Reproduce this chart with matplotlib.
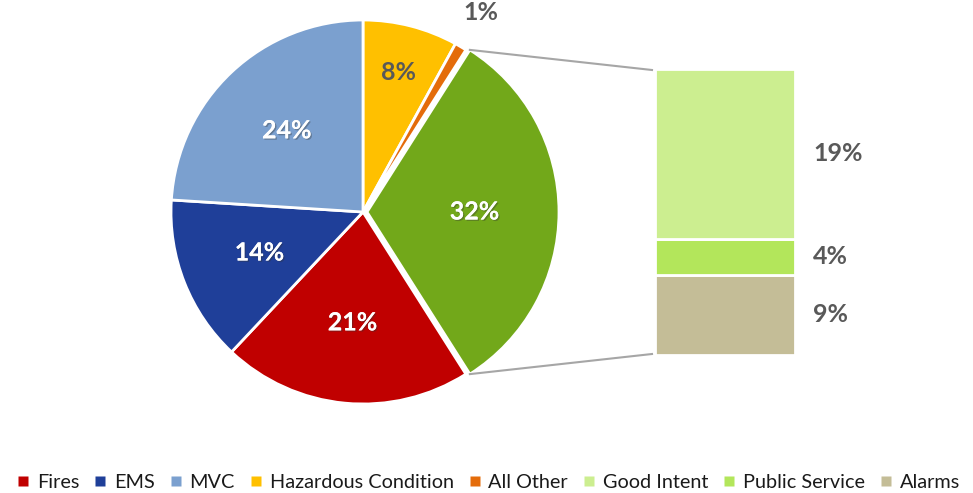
import math
import matplotlib
matplotlib.use("Agg")
import matplotlib.pyplot as plt
from matplotlib.lines import Line2D
import matplotlib.patheffects as pe

plt.rcParams['font.family'] = ['Lato', 'DejaVu Sans']

# Main pie (clockwise from 12 o'clock)
pie_labels = ["Hazardous Condition", "All Other", "Other Calls", "Fires", "EMS", "MVC"]
pie_values = [8, 1, 32, 21, 14, 24]
pie_colors = ["#FFC000", "#E46C0A", "#72A81A", "#C00000", "#1F3F99", "#7BA0CF"]

# Breakdown of the combined slice (bottom to top in the bar)
bar_labels = ["Alarms", "Public Service", "Good Intent"]
bar_values = [9, 4, 19]
bar_colors = ["#C4BD97", "#B3E65B", "#CCEE90"]

legend_order = ["Fires", "EMS", "MVC", "Hazardous Condition", "All Other",
                "Good Intent", "Public Service", "Alarms"]

W, H = 973, 493
fig = plt.figure(figsize=(W / 100, H / 100), dpi=100)
ax = fig.add_axes([0, 0, 1, 1])

cx, cy, R = 363, H - 212, 192
explode_px = [0, 0, 4, 0, 0, 0]
ax.pie(pie_values, colors=pie_colors, startangle=90, counterclock=False,
       center=(cx, cy), radius=R, explode=explode_px, frame=True,
       wedgeprops=dict(edgecolor="white", linewidth=2))
ax.set_xlim(0, W)
ax.set_ylim(0, H)
ax.set_axis_off()

shadow = [pe.withSimplePatchShadow(offset=(1, -1), shadow_rgbFace="#333333", alpha=0.35),
          pe.Normal()]

total = sum(pie_values)
# label radial fractions and colours
label_r = [0.75, 1.21, 0.56, 0.58, 0.58, 0.58]
label_c = ["#595959", "#595959", "white", "white", "white", "white"]
start = 0.0
for v, rf, col, ex in zip(pie_values, label_r, label_c, explode_px):
    mid = (start + v / 2) / total * 2 * math.pi
    x = cx + (rf * R + ex) * math.sin(mid)
    y = cy + (rf * R + ex) * math.cos(mid)
    ax.text(x, y, f"{v}%", ha="center", va="center", fontsize=18,
            fontweight="bold", color=col,
            path_effects=shadow if col == "white" else None)
    start += v

# Stacked bar for the breakdown
bx, bw = 725, 140
b_bottom, b_top = H - 355, H - 69
scale = (b_top - b_bottom) / sum(bar_values)
bottom = b_bottom
for v, col in zip(bar_values, bar_colors):
    ax.bar(bx, v * scale, width=bw, bottom=bottom, color=col,
           edgecolor="white", linewidth=2)
    ax.text(bx + bw / 2 + 18, bottom + v * scale / 2, f"{v}%", ha="left",
            va="center", fontsize=18, fontweight="bold", color="#595959")
    bottom += v * scale

# Connector lines from the combined slice to the bar
s_ang = sum(pie_values[:2]) / total * 2 * math.pi
e_ang = sum(pie_values[:3]) / total * 2 * math.pi
m_ang = (s_ang + e_ang) / 2
ox, oy = explode_px[2] * math.sin(m_ang), explode_px[2] * math.cos(m_ang)
p1 = (cx + ox + R * math.sin(s_ang), cy + oy + R * math.cos(s_ang))
p2 = (cx + ox + R * math.sin(e_ang), cy + oy + R * math.cos(e_ang))
ax.plot([p1[0], bx - bw / 2 - 3], [p1[1], b_top - 1], color="#A6A6A6", lw=1.5)
ax.plot([p2[0], bx - bw / 2 - 3], [p2[1], b_bottom + 1], color="#A6A6A6", lw=1.5)

color_map = dict(zip(pie_labels, pie_colors))
color_map.update(dict(zip(bar_labels, bar_colors)))
handles = [Line2D([], [], marker="s", linestyle="none", markersize=7,
                  markerfacecolor=color_map[n], markeredgecolor="none")
           for n in legend_order]
fig.legend(handles, legend_order, loc="center", bbox_to_anchor=(488 / W, 1 - 482 / H),
           ncol=8, frameon=False, fontsize=14.3, handlelength=0.7, handletextpad=0.35,
           columnspacing=0.7, labelcolor="#1a1a1a", borderpad=0)

fig.savefig("out.png", dpi=100)
